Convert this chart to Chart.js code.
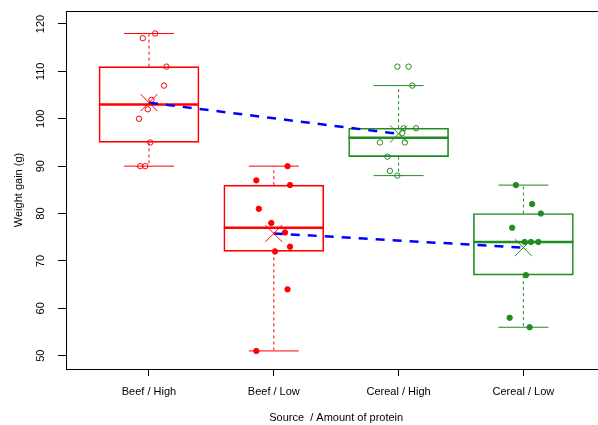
<!DOCTYPE html>
<html>
<head>
<meta charset="utf-8">
<script src="https://cdn.jsdelivr.net/npm/chart.js@4.4.1/dist/chart.umd.min.js"></script>
<style>
  html, body { margin: 0; padding: 0; background: #fff; overflow: hidden; }
  canvas { display: block; }
</style>
</head>
<body>
<canvas id="chart" width="620" height="425"></canvas>
<script>
// groups along the x axis
const categories = ['Beef / High', 'Beef / Low', 'Cereal / High', 'Cereal / Low'];
const groupColors = ['#FF0000', '#FF0000', '#228B22', '#228B22'];
const groupFilled = [false, true, false, true];

// box statistics
const whiskerLow = [90, 51, 88, 56];
const boxQ1 = [95, 72, 92, 67];
const boxMedian = [103, 77, 96, 74];
const boxQ3 = [111, 86, 98, 80];
const whiskerHigh = [118, 90, 107, 86];
const groupMeans = [103.4, 75.8, 96.8, 72.8];

// the raw points and their horizontal jitter (in category units)
const beefHigh = [118, 117, 111, 107, 104, 102, 100, 95, 90, 90];
const beefHighJitter = [0.05, -0.05, 0.14, 0.12, 0.02, -0.01, -0.08, 0.01, -0.07, -0.03];
const beefLow = [90, 87, 86, 81, 78, 76, 73, 72, 64, 51];
const beefLowJitter = [0.11, -0.14, 0.13, -0.12, -0.02, 0.09, 0.13, 0.01, 0.11, -0.14];
const cerealHigh = [111, 111, 107, 98, 98, 97, 95, 95, 92, 89, 88];
const cerealHighJitter = [-0.01, 0.08, 0.11, 0.14, 0.04, 0.03, -0.15, 0.05, -0.09, -0.07, -0.01];
const cerealLow = [86, 82, 80, 77, 74, 74, 74, 67, 58, 56];
const cerealLowJitter = [-0.06, 0.07, 0.14, -0.09, 0.01, 0.06, 0.12, 0.02, -0.11, 0.05];

const yTicks = [50, 60, 70, 80, 90, 100, 110, 120];

const groupValues = [beefHigh, beefLow, cerealHigh, cerealLow];
const groupJitter = [beefHighJitter, beefLowJitter, cerealHighJitter, cerealLowJitter];

Chart.defaults.font.family = "'Liberation Sans', Arial, sans-serif";
Chart.defaults.font.size = 11;
Chart.defaults.color = '#000';

const datasets = [];

// boxes
datasets.push({
  type: 'bar',
  data: categories.map((c, i) => ({ x: i + 1, y: [boxQ1[i], boxQ3[i]] })),
  backgroundColor: 'rgba(0,0,0,0)',
  borderColor: groupColors,
  borderWidth: 1,
  borderSkipped: false,
  barThickness: 100,
  order: 9
});

// whiskers
categories.forEach((c, i) => {
  datasets.push({
    type: 'line',
    data: [
      { x: i + 1, y: boxQ3[i] }, { x: i + 1, y: whiskerHigh[i] },
      { x: i + 1, y: null },
      { x: i + 1, y: boxQ1[i] }, { x: i + 1, y: whiskerLow[i] }
    ],
    borderColor: groupColors[i],
    borderWidth: 1,
    borderDash: [3, 3],
    pointRadius: 0,
    spanGaps: false,
    order: 8
  });
});

// whisker caps
datasets.push({
  type: 'scatter',
  data: categories.flatMap((c, i) => [{ x: i + 1, y: whiskerLow[i] }, { x: i + 1, y: whiskerHigh[i] }]),
  pointStyle: 'line',
  pointRadius: 25,
  borderWidth: 1,
  borderColor: categories.flatMap((c, i) => [groupColors[i], groupColors[i]]),
  order: 7
});

// medians
datasets.push({
  type: 'scatter',
  data: categories.map((c, i) => ({ x: i + 1, y: boxMedian[i] })),
  pointStyle: 'line',
  pointRadius: 50,
  borderWidth: 2.5,
  borderColor: groupColors,
  order: 6
});

// jittered points
groupValues.forEach((vals, i) => {
  datasets.push({
    type: 'scatter',
    data: vals.map((v, k) => ({ x: i + 1 + groupJitter[i][k], y: v })),
    pointStyle: 'circle',
    pointRadius: 2.7,
    borderWidth: 1,
    borderColor: groupColors[i],
    backgroundColor: groupFilled[i] ? groupColors[i] : 'rgba(0,0,0,0)',
    order: 5
  });
});

// lines joining the means
[[0, 2], [1, 3]].forEach(pair => {
  datasets.push({
    type: 'line',
    data: pair.map(i => ({ x: i + 1, y: groupMeans[i] })),
    borderColor: '#0000FF',
    borderWidth: 2.5,
    borderDash: [9, 8],
    pointRadius: 0,
    order: 3
  });
});

// means
datasets.push({
  type: 'scatter',
  data: categories.map((c, i) => ({ x: i + 1, y: groupMeans[i] })),
  pointStyle: 'crossRot',
  pointRadius: 12,
  borderWidth: 1,
  borderColor: groupColors,
  order: 2
});

const framePlugin = {
  id: 'frame',
  beforeDatasetsDraw(chart) {
    const { ctx, chartArea: a } = chart;
    ctx.save();
    ctx.strokeStyle = '#000';
    ctx.lineWidth = 1;
    const l = Math.round(a.left) + 0.5, t = Math.round(a.top) + 0.5;
    const r = Math.round(a.right) + 0.5, b = Math.round(a.bottom) + 0.5;
    ctx.strokeRect(l, t, r - l, b - t);
    ctx.restore();
  }
};

new Chart(document.getElementById('chart'), {
  type: 'scatter',
  data: { datasets: datasets },
  options: {
    responsive: false,
    animation: false,
    events: [],
    layout: { autoPadding: false, padding: { top: 11, right: 13.6, left: 0, bottom: 0 } },
    plugins: { legend: { display: false }, tooltip: { enabled: false } },
    scales: {
      x: {
        type: 'linear',
        min: 0.335,
        max: 4.665,
        offset: false,
        afterFit: s => { s.height = 56; s.paddingLeft = 0; s.paddingRight = 0; },
        afterBuildTicks: s => { s.ticks = categories.map((c, i) => ({ value: i + 1 })); },
        grid: { offset: false, drawOnChartArea: false, drawTicks: true, tickLength: 7, tickColor: '#000' },
        border: { display: false },
        ticks: {
          autoSkip: false,
          maxRotation: 0,
          padding: 9.4,
          callback: v => categories[v - 1]
        },
        title: { display: true, text: 'Source  / Amount of protein', padding: { top: 0, bottom: 0.4 } }
      },
      y: {
        min: 47.19,
        max: 122.74,
        afterFit: s => { s.width = 66; s.paddingTop = 0; s.paddingBottom = 0; },
        afterBuildTicks: s => { s.ticks = yTicks.map(v => ({ value: v })); },
        grid: { drawOnChartArea: false, drawTicks: true, tickLength: 8, tickColor: '#000' },
        border: { display: false },
        ticks: {
          autoSkip: false,
          minRotation: 90,
          maxRotation: 90,
          crossAlign: 'center',
          padding: 8
        },
        title: { display: true, text: 'Weight gain (g)', padding: { top: 12.4, bottom: 0 } }
      }
    }
  },
  plugins: [framePlugin]
});
</script>
</body>
</html>
